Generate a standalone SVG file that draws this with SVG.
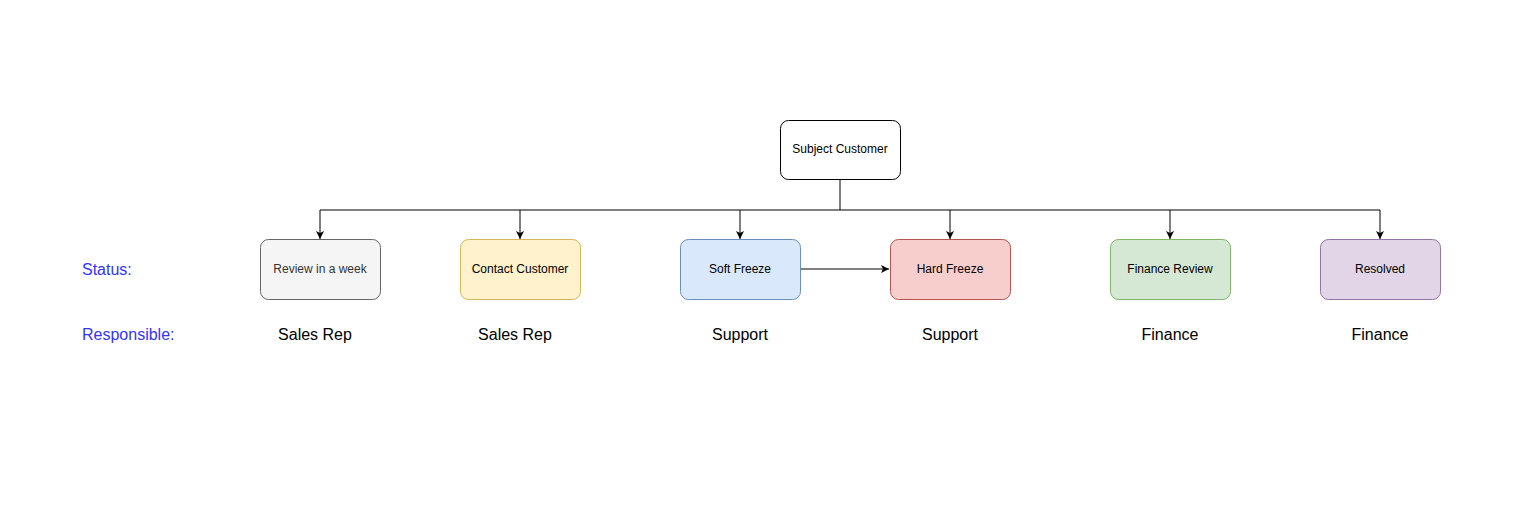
<svg xmlns="http://www.w3.org/2000/svg" width="1520" height="510" viewBox="0 0 1520 510">
<style>
.box{stroke-width:1}
.t{font-family:"Liberation Sans",Arial,sans-serif;font-size:12px;text-anchor:middle;dominant-baseline:central;fill:#000}
.lbl{font-family:"Liberation Sans",Arial,sans-serif;font-size:16px;text-anchor:middle;dominant-baseline:central;fill:#000}
.side{font-family:"Liberation Sans",Arial,sans-serif;font-size:16px;dominant-baseline:central;fill:#3333ff}
.c{fill:none;stroke:#000;stroke-width:1}
</style>
<defs>
<marker id="arr" viewBox="0 0 10 10" refX="10" refY="5" markerWidth="8" markerHeight="8" markerUnits="userSpaceOnUse" orient="auto">
<path d="M0,0 L10,5 L0,10 L2.5,5 Z" fill="#000"/>
</marker>
</defs>
<rect width="1520" height="510" fill="#fff"/>
<g id="connectors">
<path class="c" d="M840,180 V210"/>
<path class="c" d="M320,210 H1380"/>
<path class="c" d="M320,210 V239" marker-end="url(#arr)"/>
<path class="c" d="M520,210 V239" marker-end="url(#arr)"/>
<path class="c" d="M740,210 V239" marker-end="url(#arr)"/>
<path class="c" d="M950,210 V239" marker-end="url(#arr)"/>
<path class="c" d="M1170,210 V239" marker-end="url(#arr)"/>
<path class="c" d="M1380,210 V239" marker-end="url(#arr)"/>
<path class="c" d="M800,269 H889" marker-end="url(#arr)"/>
</g>
<g id="subject">
<rect x="780.5" y="120.5" width="120" height="59" rx="8" fill="#fff" stroke="#000"/>
<text class="t" x="840" y="149">Subject Customer</text>
</g>
<g id="review">
<rect x="260.5" y="239.5" width="120" height="60" rx="8" fill="#f5f5f5" stroke="#666666"/>
<text class="t" x="320" y="269" fill="#333333" style="fill:#333333">Review in a week</text>
</g>
<g id="contact">
<rect x="460.5" y="239.5" width="120" height="60" rx="8" fill="#fff2cc" stroke="#d6b656"/>
<text class="t" x="520" y="269">Contact Customer</text>
</g>
<g id="soft">
<rect x="680.5" y="239.5" width="120" height="60" rx="8" fill="#dae8fc" stroke="#6c8ebf"/>
<text class="t" x="740" y="269">Soft Freeze</text>
</g>
<g id="hard">
<rect x="890.5" y="239.5" width="120" height="60" rx="8" fill="#f8cecc" stroke="#b85450"/>
<text class="t" x="950" y="269">Hard Freeze</text>
</g>
<g id="finreview">
<rect x="1110.5" y="239.5" width="120" height="60" rx="8" fill="#d5e8d4" stroke="#82b366"/>
<text class="t" x="1170" y="269">Finance Review</text>
</g>
<g id="resolved">
<rect x="1320.5" y="239.5" width="120" height="60" rx="8" fill="#e1d5e7" stroke="#9673a6"/>
<text class="t" x="1380" y="269">Resolved</text>
</g>
<g id="labels">
<text class="side" x="82" y="269">Status:</text>
<text class="side" x="82" y="334">Responsible:</text>
<text class="lbl" x="315" y="334">Sales Rep</text>
<text class="lbl" x="515" y="334">Sales Rep</text>
<text class="lbl" x="740" y="334">Support</text>
<text class="lbl" x="950" y="334">Support</text>
<text class="lbl" x="1170" y="334">Finance</text>
<text class="lbl" x="1380" y="334">Finance</text>
</g>
</svg>
